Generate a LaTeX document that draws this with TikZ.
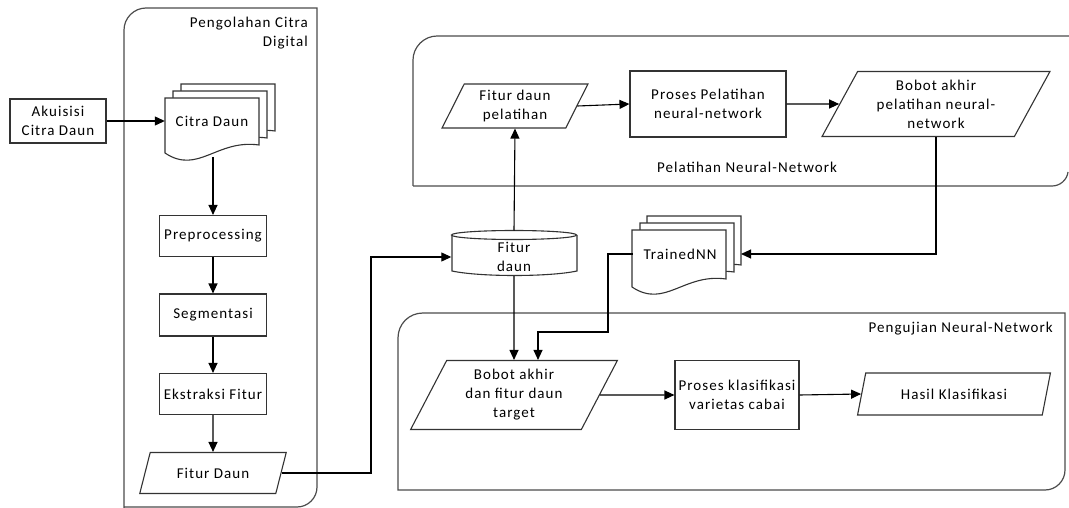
\documentclass[tikz,border=0pt]{standalone}
\usepackage{fontspec}
\setmainfont{Carlito}[LetterSpace=7]
\usetikzlibrary{shapes.geometric,arrows.meta,calc}
\newcommand\docpage[4]{%
  \pgfmathsetmacro\dR{#1+#3}\pgfmathsetmacro\dB{#2+#4}%
  \pgfmathsetmacro\dRe{#2+#4-8}%
  \pgfmathsetmacro\cxa{#1+0.55*#3}\pgfmathsetmacro\cya{#2+#4-14}%
  \pgfmathsetmacro\cxb{#1+0.35*#3}\pgfmathsetmacro\cyb{#2+#4+22}%
  \filldraw[shapeline,fill=white] (#1,#2) -- (\dR,#2) -- (\dR,\dRe) .. controls (\cxa,\cya) and (\cxb,\cyb) .. (#1,\dB) -- cycle;}
\tikzset{
  shapeline/.style={draw=black!80,line width=1.1pt},
  lane/.style={draw=black!70,line width=1.2pt},
  tfont/.style={font=\fontsize{15}{19}\selectfont},
  box/.style={shapeline,fill=white,rectangle,inner sep=0pt,align=center,tfont},
  para/.style={shapeline,fill=white,trapezium,trapezium stretches=true,inner sep=0pt,align=center,tfont},
  txt/.style={inner sep=0pt,align=center,tfont},
  conn/.style={line width=1.1pt,draw=black},
  arr/.style={conn,-{Triangle[length=10pt,width=9pt]}},
}
\begin{document}
\begin{tikzpicture}[x=1pt,y=-1pt]
\useasboundingbox (0,0) rectangle (1069,508);
% lanes
\draw[lane] (124,508) -- (124,30) .. controls (124,18) and (134,8) .. (146,8) -- (317,8) -- (317,487) .. controls (317,498) and (308,507) .. (297,507) -- (124,507);
\draw[lane] (413,186) -- (413,60) .. controls (413,47) and (424,36) .. (437,36) -- (1069,36);
\draw[lane] (413,186) -- (1052,186) .. controls (1060,186) and (1067,180) .. (1068,172);
\draw[lane] (398,490) -- (398,338) .. controls (398,324) and (409,313) .. (423,313) -- (1065,313) -- (1065,470) .. controls (1065,481) and (1056,490) .. (1045,490) -- cycle;
\node[txt,align=right,anchor=north east] (lblA) at (308,17) {Pengolahan Citra\\Digital};
\node[txt] (lblB) at (747,167) {Pelatihan Neural-Network};
\node[txt,anchor=east] (lblC) at (1053,329) {Pengujian Neural-Network};
% left column
\node[box,minimum width=96,minimum height=44] (aku) at (58,121) {Akuisisi\\Citra Daun};
\docpage{181}{84}{94}{55}
\docpage{173}{91}{94}{55}
\docpage{165}{98}{94}{55}
\node[txt,minimum width=94,minimum height=40] (citra) at (212,121) {Citra Daun};
\coordinate (citraB) at (213,157);
\node[box,minimum width=107,minimum height=41] (pre) at (213,236) {Preprocessing};
\node[box,minimum width=107,minimum height=42] (seg) at (213,315) {Segmentasi};
\node[box,minimum width=107,minimum height=41] (eks) at (213,394) {Ekstraksi Fitur};
\node[para,trapezium left angle=60,trapezium right angle=120,minimum width=147,minimum height=41] (fdaun) at (213,473) {Fitur Daun};
% cylinder
\filldraw[shapeline,fill=white] (452,235) -- (452,271) .. controls (480,277) and (549,277) .. (577,271) -- (577,235);
\filldraw[shapeline,fill=white] (514,235) ellipse [x radius=62.5,y radius=4.5];
\node[txt,minimum width=125,minimum height=44] (fd) at (514,257) {Fitur\\daun};
\coordinate (fdT) at (514,230.5);
\coordinate (fdB) at (514,276);
\coordinate (j1) at (371,257);
% top lane
\node[para,trapezium left angle=64,trapezium right angle=116,minimum width=146,minimum height=44] (fdp) at (515,106) {Fitur daun\\pelatihan};
\node[box,minimum width=156,minimum height=66] (ppl) at (708,104) {Proses Pelatihan\\neural-network};
\node[para,trapezium left angle=61,trapezium right angle=119,minimum width=228,minimum height=65] (bap) at (936,104) {Bobot akhir\\pelatihan neural-\\network};
% trainedNN
\docpage{647}{216}{94}{57}
\docpage{640}{223}{94}{57}
\docpage{632}{230}{94}{57}
\node[txt,minimum width=94,minimum height=40] (tnn) at (680,254) {TrainedNN};
\coordinate (tnnR) at (741,254);
\coordinate (j2) at (608,332);
% bottom lane
\node[para,trapezium left angle=63,trapezium right angle=117,minimum width=207,minimum height=69] (bat) at (514,395) {Bobot akhir\\dan fitur daun\\target};
\coordinate (batT) at ($(bat.north)+(24,0)$);
\node[box,minimum width=124,minimum height=69] (pkv) at (737,395) {Proses klasifikasi\\varietas cabai};
\node[para,trapezium left angle=65,trapezium right angle=115,minimum width=193,minimum height=42] (hasil) at (954,394) {Hasil Klasifikasi};
% connectors
\draw[arr] (aku.east) -- (citra.west);
\draw[arr] (citraB) -- (pre.north);
\draw[arr] (pre.south) -- (seg.north);
\draw[arr] (seg.south) -- (eks.north);
\draw[arr] (eks.south) -- (fdaun.north);
\draw[arr] (fdaun.east) -| (j1) -- (fd.west);
\draw[arr] (fdT) -- (fdp.south);
\draw[arr] (fdp.east) -- (ppl.west);
\draw[arr] (ppl.east) -- (bap.west);
\draw[arr] (bap.south) |- (tnnR);
\draw[arr] (tnn.west) -| (j2) -| (batT);
\draw[arr] (fdB) -- (bat.north);
\draw[arr] (bat.east) -- (pkv.west);
\draw[arr] (pkv.east) -- (hasil.west);
\end{tikzpicture}
\end{document}
